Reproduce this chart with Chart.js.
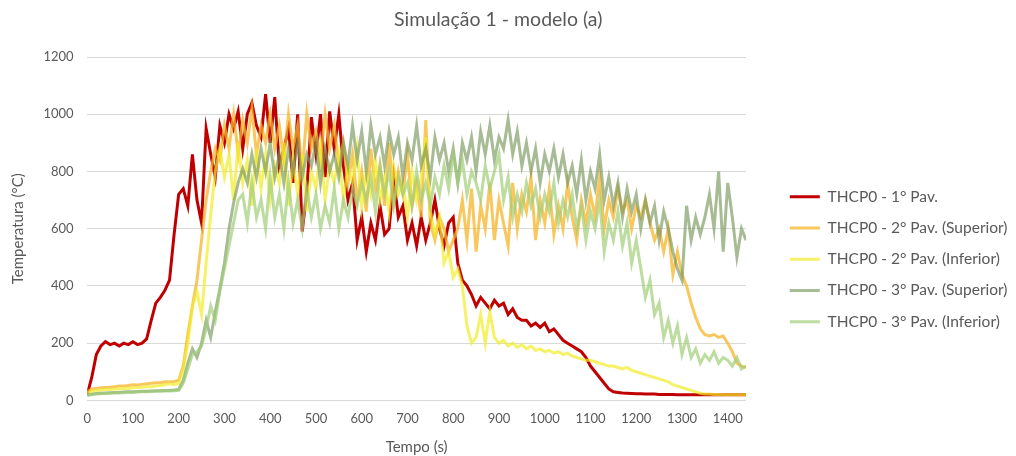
<!DOCTYPE html>
<html>
<head>
<meta charset="utf-8">
<script src="https://cdn.jsdelivr.net/npm/chart.js@4.4.1/dist/chart.umd.min.js"></script>
<style>
  body { margin: 0; background: #fff; }
  #wrap { width: 1016px; height: 456px; }
</style>
</head>
<body>
<div id="wrap"><canvas id="sim_chart" width="1016" height="456"></canvas></div>
<script>
const tempo = [
    0, 10, 20, 30, 40, 50, 60, 70, 80, 90,
    100, 110, 120, 130, 140, 150, 160, 170, 180, 190,
    200, 210, 220, 230, 240, 250, 260, 270, 280, 290,
    300, 310, 320, 330, 340, 350, 360, 370, 380, 390,
    400, 410, 420, 430, 440, 450, 460, 470, 480, 490,
    500, 510, 520, 530, 540, 550, 560, 570, 580, 590,
    600, 610, 620, 630, 640, 650, 660, 670, 680, 690,
    700, 710, 720, 730, 740, 750, 760, 770, 780, 790,
    800, 810, 820, 830, 840, 850, 860, 870, 880, 890,
    900, 910, 920, 930, 940, 950, 960, 970, 980, 990,
    1000, 1010, 1020, 1030, 1040, 1050, 1060, 1070, 1080, 1090,
    1100, 1110, 1120, 1130, 1140, 1150, 1160, 1170, 1180, 1190,
    1200, 1210, 1220, 1230, 1240, 1250, 1260, 1270, 1280, 1290,
    1300, 1310, 1320, 1330, 1340, 1350, 1360, 1370, 1380, 1390,
    1400, 1410, 1420, 1430, 1440
];

const pav1 = [
    20, 80, 160, 190, 205, 195, 200, 190, 200, 195,
    205, 195, 200, 215, 280, 340, 360, 385, 420, 580,
    720, 740, 680, 860, 700, 620, 950, 860, 780, 960,
    900, 1000, 950, 1010, 880, 1000, 1040, 960, 920, 1070,
    900, 1060, 820, 880, 950, 760, 1000, 590, 730, 990,
    860, 1000, 780, 1010, 880, 1000, 820, 700, 760, 560,
    640, 520, 620, 560, 680, 580, 600, 780, 640, 680,
    560, 620, 540, 640, 560, 620, 700, 600, 540, 620,
    640, 480, 420, 400, 370, 330, 360, 340, 320, 350,
    330, 340, 300, 320, 290, 280, 280, 260, 270, 255,
    270, 240, 250, 230, 210, 200, 190, 180, 170, 150,
    120, 100, 80, 60, 40, 30, 28, 26, 25, 24,
    23, 23, 22, 22, 22, 21, 21, 21, 21, 20,
    20, 20, 20, 20, 20, 20, 20, 20, 20, 20,
    20, 20, 20, 20, 20
];

const pav2Sup = [
    30, 40, 42, 44, 45, 46, 48, 50, 50, 52,
    55, 54, 56, 58, 60, 62, 62, 65, 64, 66,
    70, 120, 230, 330, 420, 560, 700, 800, 880, 840,
    960, 880, 1000, 860, 980, 900, 1020, 860, 960, 900,
    1000, 880, 960, 840, 1000, 880, 960, 800, 1000, 880,
    940, 840, 1000, 880, 960, 820, 900, 760, 860, 700,
    800, 660, 880, 740, 820, 680, 900, 700, 800, 720,
    860, 680, 760, 640, 980, 620, 560, 640, 600, 520,
    560, 600, 700, 560, 740, 520, 680, 600, 760, 560,
    700, 620, 540, 760, 600, 720, 660, 780, 560, 700,
    620, 740, 580, 680, 600, 760, 640, 560, 700, 620,
    720, 640, 780, 600, 700, 640, 740, 660, 700, 600,
    680, 640, 700, 620, 560, 600, 520, 600, 440, 520,
    440, 400, 340, 290, 250, 230, 225, 230, 220, 225,
    200, 170, 130, 120, 115
];

const pav2Inf = [
    25, 32, 35, 36, 38, 38, 40, 40, 42, 42,
    44, 45, 46, 48, 48, 50, 52, 55, 58, 55,
    60, 110, 200, 330, 380, 300, 480, 650, 800, 880,
    780, 860, 700, 900, 760, 840, 680, 880, 740, 860,
    700, 820, 760, 900, 680, 840, 720, 860, 660, 800,
    740, 880, 700, 820, 760, 860, 700, 820, 760, 880,
    680, 800, 720, 840, 700, 780, 660, 820, 720, 760,
    640, 800, 700, 780, 920, 660, 580, 640, 480, 520,
    430, 460, 400, 260, 200, 220, 300, 200, 310, 220,
    200, 210, 190, 200, 185, 195, 180, 190, 175, 180,
    170, 175, 165, 170, 160, 165, 155, 150, 145, 140,
    140, 135, 130, 125, 120, 120, 115, 110, 115, 105,
    100, 95, 90, 85, 80, 75, 70, 65, 55, 50,
    45, 40, 35, 30, 25, 22, 22, 21, 21, 20,
    20, 20, 20, 20, 20
];

const pav3Sup = [
    18, 22, 24, 25, 26, 27, 28, 28, 29, 30,
    30, 31, 32, 32, 33, 34, 34, 35, 35, 36,
    38, 70, 130, 180, 150, 200, 280, 220, 310, 390,
    480, 600, 690, 760, 810, 760, 860, 780, 880, 800,
    900, 780, 860, 760, 880, 800, 900, 780, 860, 820,
    900, 760, 880, 800, 860, 780, 900, 820, 960, 840,
    940, 800, 960, 860, 920, 820, 940, 860, 920, 780,
    900, 840, 960, 820, 880, 780, 920, 840, 900, 800,
    880, 760, 900, 840, 920, 800, 940, 860, 960, 840,
    920, 880, 980, 860, 940, 820, 900, 800, 880, 760,
    860, 800, 880, 780, 860, 760, 820, 720, 840, 700,
    800, 740, 860, 700, 780, 680, 760, 640, 740, 660,
    720, 600, 700, 620, 680, 560, 660, 600, 520, 460,
    420, 680, 560, 640, 580, 640, 720, 600, 800, 520,
    760, 640, 500, 600, 560
];

const pav3Inf = [
    18, 20, 22, 23, 24, 25, 26, 26, 27, 28,
    28, 29, 30, 30, 31, 32, 32, 33, 33, 34,
    35, 60, 110, 160, 170, 190, 250, 330, 280, 380,
    460, 540, 620, 700, 720, 620, 760, 640, 700, 600,
    780, 640, 720, 600, 760, 620, 700, 600, 740, 640,
    720, 600, 680, 620, 740, 600, 700, 640, 740, 680,
    760, 700, 780, 660, 820, 720, 800, 680, 780, 720,
    760, 680, 800, 700, 760, 680, 780, 720, 820, 740,
    860, 760, 840, 720, 800, 760, 700, 820, 740, 800,
    860, 700, 780, 640, 720, 660, 760, 680, 740, 640,
    720, 660, 760, 620, 700, 640, 720, 600, 680, 560,
    660, 600, 700, 520, 620, 560, 660, 540, 620, 480,
    560, 460, 360, 420, 300, 340, 220, 280, 200, 260,
    160, 220, 150, 180, 130, 160, 140, 170, 130, 150,
    140, 120, 150, 110, 120
];

const seriesNames = [
    'THCP0 - 1° Pav.',
    'THCP0 - 2° Pav. (Superior)',
    'THCP0 - 2° Pav. (Inferior)',
    'THCP0 - 3° Pav. (Superior)',
    'THCP0 - 3° Pav. (Inferior)'
];
const seriesValues = [pav1, pav2Sup, pav2Inf, pav3Sup, pav3Inf];
const seriesColors = [
    '#C00000',
    'rgba(245,180,40,0.75)',
    'rgba(242,236,40,0.7)',
    'rgba(120,150,90,0.65)',
    'rgba(160,205,120,0.7)'
];

const txt = '#595959';
const fam = 'Lato, "Open Sans", sans-serif';

// push the legend entries a bit away from the plot, like in excel
const legendShift = {
    id: 'legendShift',
    afterLayout(chart) {
        const lg = chart.legend;
        if (!lg) return;
        lg.left += 28;
        lg.right += 28;
    }
};

const ctx = document.getElementById('sim_chart');

new Chart(ctx, {
    type: 'line',
    data: {
        datasets: seriesNames.map((name, i) => ({
            label: name,
            data: tempo.map((t, k) => ({ x: t, y: seriesValues[i][k] })),
            borderColor: seriesColors[i],
            backgroundColor: seriesColors[i],
            borderWidth: 3,
            pointRadius: 0,
            tension: 0,
            order: 5 - i // excel draws the first series at the bottom
        }))
    },
    plugins: [legendShift],
    options: {
        responsive: false,
        animation: false,
        layout: { padding: { left: 7, right: 26.5, top: 0, bottom: 0 } },
        plugins: {
            title: {
                display: true,
                text: 'Simulação 1 - modelo (a)',
                color: txt,
                font: { family: fam, size: 19.5, weight: 'normal' },
                padding: { top: 8.3, bottom: 25.3 }
            },
            legend: {
                position: 'right',
                title: {
                    display: true,
                    text: ' ',
                    font: { size: 10 },
                    padding: { top: 50.4, bottom: 0 }
                },
                labels: {
                    color: txt,
                    font: { family: fam, size: 15.5 },
                    usePointStyle: true,
                    pointStyle: 'line',
                    pointStyleWidth: 30,
                    padding: 15.75,
                    sort: (a, b) => a.datasetIndex - b.datasetIndex
                }
            },
            tooltip: { enabled: false }
        },
        scales: {
            x: {
                type: 'linear',
                min: 0,
                max: 1440,
                ticks: {
                    stepSize: 100,
                    includeBounds: false,
                    color: txt,
                    font: { family: fam, size: 13 },
                    padding: 11,
                    maxRotation: 0,
                    callback: (v) => String(v)
                },
                grid: { display: false, drawTicks: false },
                border: { display: false },
                title: {
                    display: true,
                    text: 'Tempo (s)',
                    color: txt,
                    font: { family: fam, size: 15 },
                    padding: { top: 0, bottom: 0 }
                }
            },
            y: {
                min: 0,
                max: 1200,
                ticks: {
                    stepSize: 200,
                    color: txt,
                    font: { family: fam, size: 13 },
                    padding: 13.5,
                    callback: (v) => String(v)
                },
                grid: { color: '#d9d9d9', drawTicks: false },
                border: { display: false },
                title: {
                    display: true,
                    text: 'Temperatura (°C)',
                    color: txt,
                    font: { family: fam, size: 15 },
                    padding: { top: 2, bottom: 3 }
                }
            }
        }
    }
});
</script>
</body>
</html>
